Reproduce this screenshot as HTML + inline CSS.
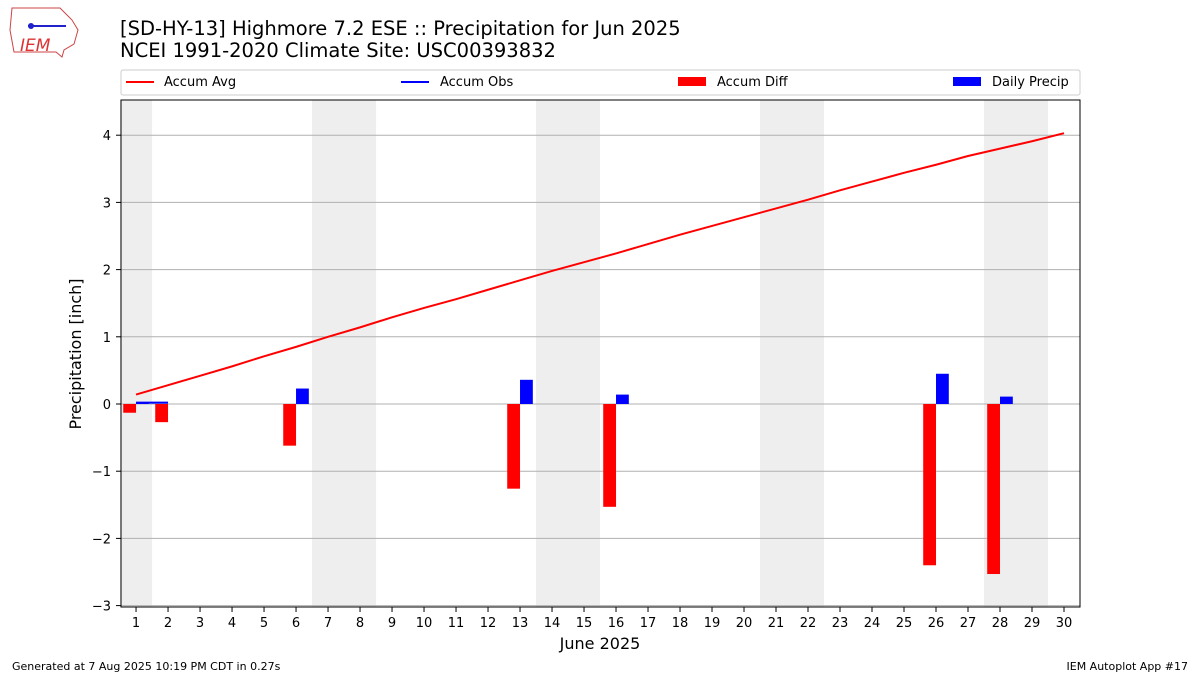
<!DOCTYPE html>
<html><head><meta charset="utf-8"><style>
body{margin:0;background:#fff;font-family:"DejaVu Sans","Liberation Sans",sans-serif;}
svg text{font-family:"DejaVu Sans","Liberation Sans",sans-serif;}
</style></head><body>
<svg id="chart" width="1200" height="675" xmlns="http://www.w3.org/2000/svg">
<rect width="1200" height="675" fill="#fff"/>
<g>
<path d="M12,8 L60,8 L66,14 L72,20 L78,30 L74,44 L64,50 L62,57 L56,52 L14,52 L10,30 Z" fill="#fff" stroke="#c44" stroke-width="1"/>
<line x1="28" y1="26" x2="66" y2="26" stroke="#22c" stroke-width="2"/>
<circle cx="31" cy="26" r="3" fill="#22c"/>
<text x="20" y="51" font-size="17" fill="#d33" font-style="italic" font-family="Liberation Serif,serif">IEM</text>
</g>
<text x="120" y="35" font-size="19.5" fill="#000">[SD-HY-13] Highmore 7.2 ESE :: Precipitation for Jun 2025</text>
<text x="120" y="57" font-size="19.5" fill="#000">NCEI 1991-2020 Climate Site: USC00393832</text>
<g id="shade"></g><g id="grid"></g><g id="bars"></g><g id="lines"></g>
<rect x="121" y="100" width="959" height="507" fill="none" stroke="#000" stroke-width="1"/>
<g id="axes"></g>
<text x="600" y="649" font-size="16" text-anchor="middle">June 2025</text>
<text transform="translate(81,354) rotate(-90)" font-size="16" text-anchor="middle">Precipitation [inch]</text>
<g>
<rect x="121" y="70" width="959" height="25" fill="#fff" stroke="#ccc" rx="2"/>
<g><line x1="126" y1="82" x2="154" y2="82" stroke="red" stroke-width="2"/><text x="164" y="86" font-size="13">Accum Avg</text></g>
<g><line x1="401" y1="82" x2="429" y2="82" stroke="blue" stroke-width="2"/><text x="440" y="86" font-size="13">Accum Obs</text></g>
<g><rect x="678" y="77" width="28" height="9" fill="red"/><text x="717" y="86" font-size="13">Accum Diff</text></g>
<g><rect x="953" y="77" width="28" height="9" fill="blue"/><text x="992" y="86" font-size="13">Daily Precip</text></g>
</g>
<text x="12" y="670" font-size="11">Generated at 7 Aug 2025 10:19 PM CDT in 0.27s</text>
<text x="1188" y="670" font-size="11" text-anchor="end">IEM Autoplot App #17</text>
</svg>
<script>
const days=[1,2,3,4,5,6,7,8,9,10,11,12,13,14,15,16,17,18,19,20,21,22,23,24,25,26,27,28,29,30];
const accumAvg=[0.14,0.28,0.42,0.56,0.71,0.85,1.0,1.14,1.29,1.43,1.56,1.70,1.84,1.98,2.11,2.24,2.38,2.52,2.65,2.78,2.91,3.04,3.18,3.31,3.44,3.56,3.69,3.80,3.91,4.03];
const obsDays=[1,2];
const accumObs=[0.02,0.02];
const precipDays=[1,2,6,13,16,26,28];
const accumDiff=[-0.13,-0.27,-0.62,-1.26,-1.53,-2.40,-2.53];
const dailyPrecip=[0.02,0,0.23,0.36,0.14,0.45,0.11];
const weekendStarts=[0.5,6.5,13.5,20.5,27.5];
const weekendEnds=[1.5,8.5,15.5,22.5,29.5];
const yTicks=[-3,-2,-1,0,1,2,3,4];
const NS='http://www.w3.org/2000/svg';
const X=d=>121+(d-0.53)/(30.5-0.53)*959;
const Y=v=>404-v*67.2;
function mk(p,t,a){const e=document.createElementNS(NS,t);for(const k in a)e.setAttribute(k,a[k]);document.getElementById(p).appendChild(e);return e;}
weekendStarts.forEach((s,i)=>{const e=mk('shade','rect',{x:X(s),y:100,width:X(weekendEnds[i])-X(s),height:507,fill:'#eeeeee'});

});
yTicks.forEach(v=>{const g=mk('grid','line',{x1:121,x2:1080,y1:Y(v),y2:Y(v),stroke:'#b0b0b0','stroke-width':1});


mk('axes','line',{x1:116,x2:121,y1:Y(v),y2:Y(v),stroke:'#000'});
const t=mk('axes','text',{x:111,y:Y(v)+5,'font-size':13,'text-anchor':'end'});t.textContent=(v<0?'\u2212'+(-v):v);

});
days.forEach(d=>{mk('axes','line',{x1:X(d),x2:X(d),y1:607,y2:612,stroke:'#000'});
const t=mk('axes','text',{x:X(d),y:627,'font-size':13,'text-anchor':'middle'});t.textContent=d;

});
const bw=X(1.4)-X(1);
precipDays.forEach((d,i)=>{const v=accumDiff[i];
const r=mk('bars','rect',{x:X(d-0.4),y:Math.min(Y(0),Y(v)),width:bw,height:Math.abs(Y(v)-Y(0)),fill:'red'});


const p=dailyPrecip[i];
const b=mk('bars','rect',{x:X(d),y:Math.min(Y(0),Y(p)),width:bw,height:Math.abs(Y(p)-Y(0)),fill:'blue'});

});
const l1=mk('lines','polyline',{points:days.map((d,i)=>X(d)+','+Y(accumAvg[i])).join(' '),fill:'none',stroke:'red','stroke-width':2});


const l2=mk('lines','polyline',{points:obsDays.map((d,i)=>X(d)+','+Y(accumObs[i])).join(' '),fill:'none',stroke:'blue','stroke-width':2});


</script>
</body></html>
